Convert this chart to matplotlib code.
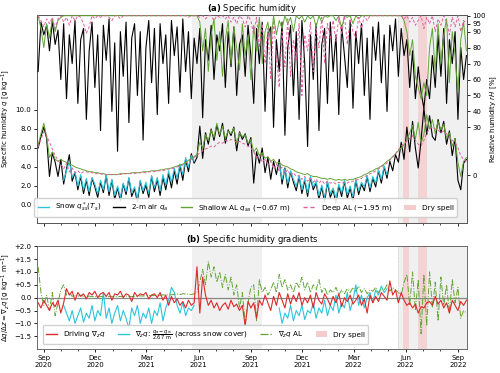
import numpy as np
import pandas as pd
import matplotlib
matplotlib.use('Agg')
import matplotlib.pyplot as plt
import matplotlib.dates as mdates
from matplotlib.patches import Patch
from matplotlib.lines import Line2D
from matplotlib.ticker import FuncFormatter

plt.rcParams['font.size'] = 5.0
plt.rcParams['axes.linewidth'] = 0.6

# DATA (5-day steps from 2020-08-22)
dates = pd.date_range('2020-08-22', periods=152, freq='5D')

# 2-m air specific humidity q_a [g/kg]
q_air = [6.0, 7.2,
         8.2, 7.0, 3.0, 5.5, 4.5, 3.0,
         4.8, 2.2, 3.8, 5.3, 2.5, 3.4,
         1.6, 3.0, 1.2, 2.6, 1.0, 2.8,
         1.9, 0.8, 2.4, 1.3, 3.1, 1.0,
         2.6, 0.6, 1.8, 0.4, 2.2, 1.1,
         2.8, 0.9, 1.7, 0.3, 2.5, 1.2,
         2.1, 0.8, 3.0, 1.4, 2.7, 1.0,
         2.9, 1.6, 3.3, 1.8, 3.6, 2.2,
         4.2, 2.6, 4.8, 3.5, 5.4, 4.4,
         5.0, 8.3, 4.9, 7.6, 6.4, 8.0,
         6.8, 8.4, 7.2, 8.6, 6.5, 7.9,
         7.3, 8.2, 5.7, 7.7, 6.9, 7.5,
         6.2, 7.1, 2.3, 5.6, 4.4, 6.0,
         3.4, 5.0, 2.7, 4.6, 3.2, 4.8,
         2.2, 3.9, 1.8, 3.5, 2.4, 1.5,
         3.0, 1.2, 2.6, 0.9, 2.9, 1.6,
         2.3, 0.6, 1.9, 0.3, 2.4, 0.8,
         1.6, 0.2, 2.0, 0.9, 2.5, 0.7,
         1.8, 0.4, 2.6, 1.1, 2.2, 1.5,
         3.0, 1.4, 2.8, 1.9, 3.6, 2.3,
         4.0, 2.8, 4.6, 3.6, 5.3, 4.5,
         6.6, 4.8, 8.2, 5.6, 8.8, 6.0,
         3.9, 6.8, 10.2, 7.4, 9.4, 7.2,
         6.8, 9.0, 7.6, 8.8, 6.4, 7.8,
         5.2, 7.0, 2.6, 1.6, 4.4, 4.8]

# shallow active layer q_sa (-0.67 m)
q_shallow = [6.3, 7.5, 8.6, 7.2, 5.0, 5.6, 4.8, 4.6,
             4.8, 4.6, 4.5, 4.3, 4.2, 4.0,
             3.9, 3.8, 3.7, 3.6, 3.5, 3.5,
             3.4, 3.4, 3.3, 3.3, 3.2, 3.2,
             3.2, 3.2, 3.2, 3.3, 3.3, 3.3,
             3.3, 3.4, 3.4, 3.4, 3.4, 3.5,
             3.5, 3.5, 3.6, 3.6, 3.6, 3.7,
             3.7, 3.8, 3.8, 3.9, 4.0, 4.1,
             4.2, 4.3, 4.5, 4.7, 4.9, 5.1,
             5.3, 6.6, 6.0, 7.4, 6.8, 7.9, 7.1, 8.6, 7.4, 8.3,
             7.0, 7.8, 7.5, 8.1, 6.5, 7.6, 7.2, 7.4, 6.5, 6.9,
             5.6, 6.0, 5.2, 5.5, 4.9, 5.1, 4.6, 4.8,
             4.4, 4.5, 4.2, 4.1, 4.0, 3.8, 3.7, 3.5,
             3.4, 3.3, 3.2, 3.3, 3.1, 3.0, 3.0, 2.9, 2.8, 2.8,
             2.7, 2.8, 2.7, 2.6, 2.7, 2.6, 2.7, 2.6, 2.7, 2.7,
             2.8, 2.9, 3.0, 3.2, 3.3, 3.5, 3.6, 3.8, 3.9,
             4.1, 4.3, 4.6, 4.8, 5.1, 5.4, 5.7, 6.0, 6.3,
             6.8, 7.6, 8.4, 6.9, 8.7, 6.5, 7.4, 9.5, 8.0, 9.0, 7.5,
             8.8, 7.9, 8.5, 7.0, 7.6, 6.2, 7.0, 4.5, 3.0, 4.6, 5.0]

# deep active layer (-1.95 m)
q_deep = [6.1, 6.9, 7.7, 7.3, 6.6, 5.9, 5.2, 4.7,
          4.3, 3.8, 4.4, 3.5, 3.9, 3.4, 3.6, 3.3,
          3.5, 3.5, 3.4, 3.4, 3.3, 3.3, 3.3, 3.2, 3.2, 3.2,
          3.2, 3.2, 3.2, 3.2, 3.3, 3.3, 3.3, 3.3, 3.3, 3.4,
          3.4, 3.4, 3.4, 3.5, 3.5, 3.5, 3.6, 3.6, 3.6, 3.7,
          3.8, 3.8, 3.9, 4.0, 4.1, 4.2, 4.4, 4.6, 4.8, 5.0,
          5.2, 5.5, 5.7, 5.9, 6.0, 6.2, 6.1, 6.4, 6.6, 6.5,
          6.8, 6.7, 6.9, 6.8, 6.6, 6.7, 6.5, 6.4, 6.2, 6.0,
          5.6, 5.0, 5.3, 4.5, 4.9, 4.2, 4.6, 3.8,
          4.3, 3.6, 4.0, 3.4, 3.7, 3.1, 3.4, 3.0,
          3.1, 2.7, 3.0, 2.5, 2.8, 2.4, 2.7, 2.3, 2.6, 2.2,
          2.5, 2.3, 2.4, 2.2, 2.4, 2.3, 2.4, 2.3, 2.5, 2.5,
          2.6, 2.7, 2.8, 3.0, 3.1, 3.3, 3.4, 3.6, 3.8,
          4.0, 4.2, 4.4, 4.7, 5.0, 5.4, 5.8, 6.2, 6.5,
          6.7, 7.0, 7.3, 6.8, 6.4, 6.2, 6.8, 7.6, 8.0, 8.2, 8.0,
          7.9, 7.6, 7.8, 7.5, 7.2, 6.8, 6.6, 6.0, 5.2, 4.8, 4.6]

# snow surface saturation q*_ss(T_s), two snow seasons (start index on the 5-day grid)
snow1_start = 9
q_snow1 = [2.6, 3.6, 4.6, 2.9, 3.5, 2.0, 3.2, 1.6, 2.8, 1.4,
           2.9, 2.2, 1.2, 2.6, 1.6, 3.2, 1.4, 2.7, 1.0, 2.0,
           0.8, 2.3, 1.4, 2.9, 1.3, 1.9, 0.7, 2.6, 1.5, 2.4,
           1.2, 3.1, 1.8, 2.9, 1.5, 3.2, 2.1, 3.6, 2.4, 3.9,
           2.8, 4.3, 3.2, 5.0, 4.0, 5.2, 4.6]
snow2_start = 85
q_snow2 = [4.3, 2.7, 3.8, 2.3, 3.6, 2.7, 2.0, 3.1, 1.6, 2.8,
           1.3, 3.0, 1.9, 2.5, 1.0, 2.1, 0.8, 2.5, 1.2, 1.8,
           0.7, 2.2, 1.3, 2.6, 1.1, 2.0, 0.9, 2.7, 1.5, 2.4,
           1.9, 3.1, 1.8, 3.0, 2.3, 3.7, 2.7, 4.1, 3.2]

# relative humidity [%]
rh_air = [65, 96, 88, 94, 78, 97, 82, 91,
          60, 95, 48, 88, 70, 97, 45, 85,
          92, 35, 78, 96, 55, 88, 28, 94,
          72, 98, 40, 83, 15, 90, 62, 96,
          33, 86, 95, 50, 90, 22, 80, 97,
          58, 92, 38, 95, 70, 88, 45, 97,
          75, 93, 52, 98, 65, 90, 48, 86,
          70, 92, 36, 85, 72, 94, 60, 88,
          78, 95, 55, 90, 68, 93, 50, 82,
          88, 62, 94, 75, 45, 92, 70, 96,
          40, 88, 93, 30, 85, 65, 96, 25,
          80, 94, 50, 90, 35, 97, 70, 18,
          88, 60, 95, 28, 82, 92, 45, 96,
          65, 88, 38, 94, 75, 55, 97, 42,
          90, 70, 95, 50, 86, 35, 93, 72,
          96, 58, 88, 40, 94, 78, 98, 62,
          92, 75, 85, 55, 78, 48, 68, 52,
          42, 60, 48, 75, 55, 88, 62, 92,
          45, 85, 70, 90, 35, 80, 60, 75]

rh_shallow = [100, 92, 80, 95, 86, 98, 90, 97,
              99, 100, 100, 100, 100, 100, 100, 100,
              100, 100, 100, 100, 100, 100, 100, 100,
              100, 100, 100, 100, 100, 100, 100, 100,
              100, 100, 100, 100, 100, 100, 100, 100,
              100, 100, 100, 100, 100, 100, 100, 100,
              100, 100, 100, 100, 100, 100, 100, 100,
              100, 96, 78, 92, 65, 88, 98, 72,
              90, 62, 85, 97, 70, 93, 80, 66,
              95, 75, 88, 60, 94, 78, 99, 70,
              90, 96, 82, 100, 88, 97, 92, 100,
              95, 99, 90, 100, 98, 100, 96, 100,
              98, 100, 93, 100, 96, 100, 99, 100,
              100, 97, 100, 92, 100, 99, 100, 95,
              100, 98, 100, 100, 100, 100, 100, 100,
              100, 100, 100, 100, 100, 100, 100, 100,
              100, 97, 90, 75, 85, 62, 55, 48,
              58, 50, 80, 92, 65, 95, 70, 88,
              98, 58, 90, 75, 52, 85, 96, 78]

rh_deep = [100, 97, 93, 98, 95, 99, 92, 98,
           100, 96, 99, 94, 100, 97, 100, 99,
           95, 89, 93, 100, 98, 100, 99, 100,
           100, 99, 97, 100, 100, 98, 100, 100,
           100, 100, 100, 100, 100, 100, 100, 100,
           100, 100, 100, 100, 100, 100, 100, 100,
           100, 100, 100, 100, 100, 99, 100, 100,
           100, 99, 100, 98, 100, 100, 97, 100,
           99, 100, 98, 100, 96, 99, 95, 100,
           98, 93, 100, 97, 88, 99, 80, 95,
           70, 92, 60, 97, 75, 55, 90, 68,
           98, 62, 85, 72, 95, 50, 88, 78,
           96, 65, 92, 80, 99, 70, 95, 86,
           97, 84, 99, 88, 100, 82, 98, 90,
           86, 99, 92, 100, 97, 100, 100, 100,
           100, 100, 100, 100, 100, 100, 100, 100,
           100, 98, 100, 96, 99, 94, 97, 100,
           92, 99, 95, 100, 90, 98, 94, 100,
           96, 88, 99, 93, 100, 90, 97, 95]

# gradients [g/kg/m]
grad_driving = [-0.2, -0.4, -0.1, -0.3, -0.5, -0.2, -0.35, -0.1,
                -0.6, -0.2, 0.35, 0.1, 0.25, -0.1, 0.2, 0.05,
                0.15, -0.05, 0.2, 0.1, 0.25, 0.0, 0.15, 0.2,
                0.05, 0.2, -0.1, 0.15, 0.1, 0.25, 0.0, 0.15,
                0.1, -0.15, 0.2, 0.05, 0.15, 0.1, 0.2, -0.05,
                0.1, 0.15, 0.0, 0.2, -0.1, 0.1, -0.3, 0.05,
                -0.2, -0.05, -0.3, -0.15, -0.4, -0.1, -0.3, -0.2,
                1.2, -0.6, 0.8, 0.1, -0.3, -0.1, -0.4, -0.2,
                -0.5, -0.3, -0.2, -0.45, -0.1, -0.35, -0.25, -0.5,
                -0.3, -1.1, -0.15, -0.4, -0.2, -0.8, -0.1, -0.3,
                0.1, -0.2, -0.5, 0.05, -0.3, 0.2, -0.1, -0.4,
                0.15, -0.25, 0.1, -0.15, 0.2, -0.3, 0.0, -0.2,
                0.1, -0.4, 0.2, -0.1, -0.25, 0.15, -0.05, -0.3,
                0.05, -0.2, 0.15, -0.35, 0.0, -0.15, 0.1, -0.25,
                -0.1, 0.1, -0.3, -0.05, -0.6, 0.1, -0.2, 0.05,
                -0.15, 0.2, 0.05, -0.1, 0.65, 0.1, 0.3, -0.2,
                0.2, -0.1, -0.3, -0.2, -0.4, -0.25, -0.6, -0.35,
                -0.4, -0.2, -0.15, -0.3, 0.05, -0.25, -0.1, -0.4,
                -0.2, -0.6, -0.1, -0.3, -0.5, -0.15, -0.3, -0.1]

grad_snow1 = [-0.3, -0.6, -0.9, -0.5, -1.0, -0.7, -0.4, -0.95, -0.6, -0.8,
              -0.3, -0.9, -0.5, -0.7, 0.2, -0.8, -0.4, -1.0, -0.6, -0.3,
              -0.9, -0.5, -0.8, -1.2, -0.4, -0.7, -0.3, -1.0, -0.6, -0.8,
              -0.4, -1.0, -0.5, -0.7, -0.2, -0.9, -0.4, -0.1, 0.4, 0.2,
              -0.3, -0.6, -0.2, -0.7, -0.4, -0.5, -0.3]
grad_snow2 = [-0.4, -1.0, -0.6, -0.8, -0.3, -0.9, -0.5, -0.7, -0.3, -0.85,
              -0.5, -0.6, -0.2, -0.8, -0.4, -0.6, -0.1, -0.7, -0.3, -0.5,
              0.1, -0.6, -0.2, -0.4, 0.2, -0.5, -0.1, 0.5, -0.3, 0.1,
              -0.4, 0.0, 0.2, -0.2, 0.3, 0.1, 0.45, 0.2, 0.35]

grad_al = [1.2, 0.2, -0.3, 0.1, -0.5, 0.2, -0.7, -0.2,
           0.3, 0.5, 0.1, 0.2, 0.05, 0.1, 0.05, 0.1,
           0.05, 0.03, 0.06, 0.04, 0.05, 0.03, 0.04, 0.05, 0.03, 0.04,
           0.05, 0.04, 0.03, 0.05, 0.04, 0.06, 0.05, 0.04, 0.05, 0.06,
           0.07, 0.06, 0.08, 0.07, 0.09, 0.08, 0.1, 0.09, 0.11, 0.1,
           0.12, 0.11, 0.13, 0.14, 0.12, 0.15, 0.14, 0.13, 0.12, 0.15,
           0.2, 0.6, 1.1, 0.5, 1.4, 0.8, 1.2, 0.6, 1.0, 0.4,
           0.9, 0.3, 0.8, 0.1, 0.5, -0.4, 0.2, -1.0, -0.2, 0.4,
           0.5, -0.9, 0.7, 0.2, 0.4, 0.1, 0.3, 0.6,
           0.2, 0.9, 0.4, 0.7, 0.3, 0.5, 0.2, 0.6,
           0.4, 0.8, 0.3, 0.6, 0.2, 0.5, 0.3, 0.7, 0.2, 0.4,
           0.1, 0.3, 0.2, 0.4, 0.1, 0.3, 0.15, 0.35, 0.2, 0.4,
           0.25, 0.45, 0.2, 0.35, 0.15, 0.3, 0.25, 0.4, 0.2,
           0.35, 0.3, 0.5, 0.25, 0.4, 0.3, 0.2, 0.1, 0.6,
           0.9, -0.3, 1.0, -0.5, 0.7, -1.4, 0.9, -1.1, 1.0, -0.4, 0.6,
           -0.9, 0.8, -0.3, 0.5, -0.6, 0.7, -0.2, 0.4, -0.8, -0.5, -0.6]

snow_free = [('2021-05-21', '2021-09-20'), ('2022-05-18', '2022-09-20')]
dry_spells = [('2022-05-28', '2022-06-06'), ('2022-06-22', '2022-07-08')]

# colours
c_cyan = '#2cc4dc'
c_green = '#62a535'
c_pink = '#e0609f'
c_red = '#dc2a2a'
c_dry = '#f4cccc'

fig = plt.figure(figsize=(5.0, 3.73), dpi=100)
ax = fig.add_axes([0.074, 0.402, 0.86, 0.558])
bx = fig.add_axes([0.074, 0.064, 0.86, 0.276], sharex=ax)
ax2 = ax.twinx()

x_snow1 = dates[snow1_start:snow1_start + len(q_snow1)]
x_snow2 = dates[snow2_start:snow2_start + len(q_snow2)]

for a in (ax, bx):
    for s, e in snow_free:
        a.axvspan(pd.Timestamp(s), pd.Timestamp(e), color='#f0f0f0', lw=0, zorder=0)
    for s, e in dry_spells:
        a.axvspan(pd.Timestamp(s), pd.Timestamp(e), color=c_dry, alpha=0.8, lw=0, zorder=0.5)
    a.axvline(pd.Timestamp(snow_free[1][0]), color='#bbbbbb', lw=0.5, ls=':', zorder=0.6)

# (a) specific humidity
ax.plot(dates, q_air, color='black', lw=0.8, zorder=3)
ax.plot(x_snow1, q_snow1, color=c_cyan, lw=0.8, zorder=3.5)
ax.plot(x_snow2, q_snow2, color=c_cyan, lw=0.8, zorder=3.5)
ax.plot(dates, q_shallow, color=c_green, lw=0.7, zorder=4)
ax.plot(dates, q_deep, color=c_pink, lw=0.7, ls=(0, (3, 2)), zorder=4.5)

ax2.plot(dates, rh_air, color='black', lw=0.8, zorder=3)
ax2.plot(dates, rh_shallow, color=c_green, lw=0.7, zorder=4)
ax2.plot(dates, rh_deep, color=c_pink, lw=0.7, ls=(0, (3, 2)), zorder=4.5)

ax.set_xlim(pd.Timestamp('2020-08-20'), pd.Timestamp('2022-09-17'))
ax.set_ylim(-1.9, 20.0)
ax.set_yticks([0, 2, 4, 6, 8, 10])
ax.yaxis.set_major_formatter(FuncFormatter(lambda v, p: f'{v:.1f}'))
ax.set_ylabel(r'Specific humidity $q$ [g kg$^{-1}$]', labelpad=3)
ax2.set_ylim(-30, 100.5)
ax2.set_yticks([0, 30, 40, 50, 60, 70, 80, 90, 95, 100])
ax2.set_ylabel(r'Relative humidity $rH$ [%]', labelpad=2)
ax.set_title(r'$\mathbf{(a)}$ Specific humidity', fontsize=6.0, pad=2.5)

handles_a = [Line2D([], [], color=c_cyan, lw=1.0),
             Line2D([], [], color='black', lw=1.0),
             Line2D([], [], color=c_green, lw=1.0),
             Line2D([], [], color=c_pink, lw=1.0, ls=(0, (3, 2))),
             Patch(facecolor=c_dry, edgecolor='none')]
labels_a = [r'Snow $q^*_{ss}(T_s)$', r'2-m air $q_a$',
            r'Shallow AL $q_{sa}$ ($-$0.67 m)', r'Deep AL ($-$1.95 m)', 'Dry spell']
ax2.legend(handles_a, labels_a, loc='lower center', ncol=5, fontsize=5.2,
           bbox_to_anchor=(0.485, 0.01), handlelength=1.6, columnspacing=1.7,
           handletextpad=0.8, borderpad=0.45, framealpha=0.9, edgecolor='#cccccc')

# (b) gradients
bx.axhline(0, color='#888888', lw=0.9, zorder=1)
bx.plot(dates, grad_driving, color=c_red, lw=0.8, zorder=4)
bx.plot(x_snow1, grad_snow1, color=c_cyan, lw=0.8, zorder=3)
bx.plot(x_snow2, grad_snow2, color=c_cyan, lw=0.8, zorder=3)
bx.plot(dates, grad_al, color=c_green, lw=0.7, ls='-.', zorder=3.5)
bx.set_ylim(-2.0, 2.0)
bx.set_yticks([-1.5, -1.0, -0.5, 0.0, 0.5, 1.0, 1.5, 2.0])


def signed(v, p):
    if abs(v) < 1e-9:
        return '0.0'
    return f'+{v:.1f}' if v > 0 else f'\u2212{abs(v):.1f}'


bx.yaxis.set_major_formatter(FuncFormatter(signed))
bx.set_ylabel(r'$\Delta q/\Delta z = \nabla_z q$ [g kg$^{-1}$ m$^{-1}$]', labelpad=1.5)
bx.set_title(r'$\mathbf{(b)}$ Specific humidity gradients', fontsize=6.0, pad=2.5)

handles_b = [Line2D([], [], color=c_red, lw=1.0),
             Line2D([], [], color=c_cyan, lw=1.0),
             Line2D([], [], color=c_green, lw=0.9, ls='-.'),
             Patch(facecolor=c_dry, edgecolor='none')]
labels_b = [r'Driving $\nabla_z q$',
            r'$\nabla_z q$: $\frac{q_a - q_{ss}}{2.67\ \mathrm{m}}$ (across snow cover)',
            r'$\nabla_z q$ AL', 'Dry spell']
bx.legend(handles_b, labels_b, loc='lower left', ncol=4, fontsize=5.2,
          bbox_to_anchor=(0.005, 0.01), handlelength=1.6, columnspacing=1.7,
          handletextpad=0.8, borderpad=0.4, framealpha=0.9, edgecolor='#cccccc')

bx.xaxis.set_major_locator(mdates.MonthLocator(bymonth=[3, 6, 9, 12]))
bx.xaxis.set_major_formatter(mdates.DateFormatter('%b\n%Y'))
bx.xaxis.set_minor_locator(mdates.MonthLocator())
plt.setp(ax.get_xticklabels(), visible=False)

for a in (ax, ax2, bx):
    a.tick_params(which='major', length=2.5, width=0.6, labelsize=5.0, pad=1.5)
    a.tick_params(which='minor', length=1.5, width=0.5)
    for sp in a.spines.values():
        sp.set_color('#555555')

fig.savefig('out.png', dpi=100)
